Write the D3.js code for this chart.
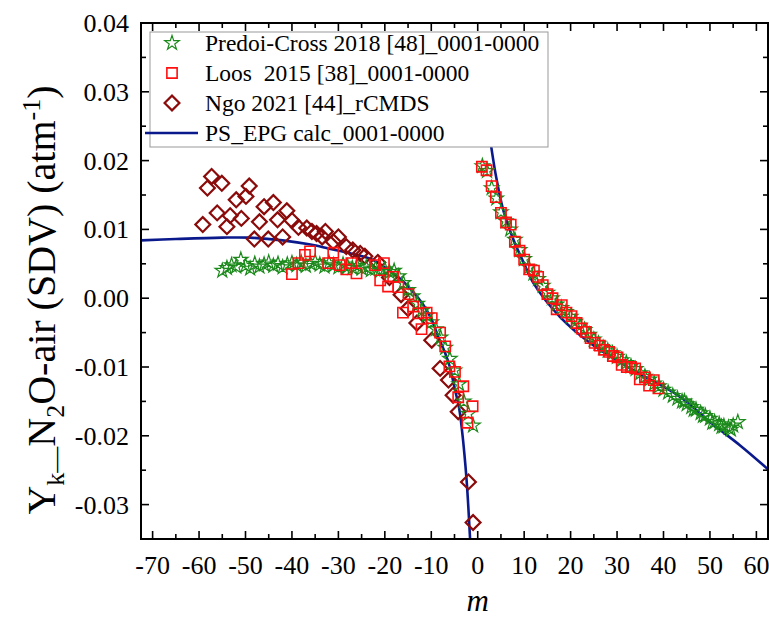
<!DOCTYPE html>
<html>
<head>
<meta charset="utf-8">
<script src="https://cdn.jsdelivr.net/npm/d3@7"></script>
<style>
  body { margin: 0; background: #fff; }
</style>
</head>
<body>
<div id="chart"></div>
<script>
// Predoi-Cross 2018 (green stars)
const starM = [-55,-54,-53,-52,-51,-50,-49,-48,-47,-46,-45,-44,-43,-42,-41,-40,-39,-38,-37,-36,-35,-34,-33,-32,-31,-30,-29,-28,-27,-26,-25,-24,-23,-22,-21,-20,-19,-18,-17,-16,-15,-14,-13,-12,-11,-10,-9,-8,-7,-6,-5,-4,-3,-2,-1,
  1,2,3,4,5,6,7,8,9,10,11,12,13,14,15,16,17,18,19,20,21,22,23,24,25,26,27,28,29,30,31,32,33,34,35,36,37,38,39,40,41,42,43,44,45,46,47,48,49,50,51,52,53,54,55,56,
  44.5,46.5,48.5,50.5,52.5,54.5];
const starY = [0.0040,0.0044,0.0048,0.0046,0.0056,0.0047,0.0043,0.0050,0.0046,0.0049,0.0052,0.0047,0.0050,0.0045,0.0049,0.0051,0.0048,0.0052,0.0047,0.0050,0.0053,0.0049,0.0046,0.0051,0.0048,0.0045,0.0049,0.0046,0.0044,0.0047,0.0043,0.0045,0.0041,0.0043,0.0040,0.0042,0.0038,0.0040,0.0032,0.0022,0.0012,0.0003,-0.0008,-0.0018,-0.0025,-0.0035,-0.0045,-0.0057,-0.0072,-0.0088,-0.0105,-0.0125,-0.0150,-0.0168,-0.0185,
  0.0192,0.0185,0.0160,0.0145,0.0125,0.0112,0.0100,0.0085,0.0070,0.0057,0.0045,0.0036,0.0028,0.0018,0.0008,0.0000,-0.0009,-0.0014,-0.0020,-0.0027,-0.0034,-0.0040,-0.0046,-0.0053,-0.0060,-0.0066,-0.0072,-0.0076,-0.0080,-0.0085,-0.0090,-0.0094,-0.0099,-0.0103,-0.0109,-0.0114,-0.0118,-0.0124,-0.0128,-0.0133,-0.0137,-0.0142,-0.0146,-0.0150,-0.0154,-0.0158,-0.0162,-0.0167,-0.0171,-0.0175,-0.0180,-0.0183,-0.0186,-0.0188,-0.0185,-0.0180,
  -0.0150,-0.0162,-0.0171,-0.0181,-0.0187,-0.0191];

// Loos 2015 (red squares)
const loosM = [-40.0,-38.6,-37.2,-36.1,-32.2,-31.1,-29.7,-28.3,-27.2,-26.1,-22.1,-20.2,-18.2,-21.0,-19.3,-17.1,-14.9,-16.1,-13.9,-12.8,-11.0,-9.9,-12.1,-8.1,-7.0,-6.1,-4.9,-3.1,-4.2,-1.1,-2.2,
  0.9,1.9,3.0,3.9,5.0,6.1,7.1,8.0,9.0,10.0,11.1,12.1,13.0,14.0,15.0,16.1,17.0,18.1,19.1,20.2,21.3,22.4,23.3,24.3,25.2,26.3,27.2,28.3,29.1,30.1,31.0,32.1,33.0,33.9,34.9,36.0,36.9,37.9,38.9];
const loosY = [0.0035,0.0051,0.0063,0.0068,0.0051,0.0066,0.0048,0.0042,0.0051,0.0036,0.0048,0.0051,0.0031,0.0026,0.0017,0.0016,0.0006,-0.0021,-0.0012,-0.0022,-0.0021,-0.0029,-0.0045,-0.0050,-0.0070,-0.0099,-0.0107,-0.0128,-0.0144,-0.0157,-0.0181,
  0.0191,0.0186,0.0163,0.0147,0.0124,0.0110,0.0107,0.0082,0.0069,0.0056,0.0042,0.0040,0.0031,0.0019,0.0006,0.0000,-0.0016,-0.0010,-0.0021,-0.0026,-0.0036,-0.0044,-0.0049,-0.0058,-0.0065,-0.0069,-0.0075,-0.0078,-0.0084,-0.0086,-0.0097,-0.0100,-0.0100,-0.0102,-0.0118,-0.0115,-0.0127,-0.0119,-0.0131];

// Ngo 2021 (dark red diamonds)
const ngoM = [-57.3,-55.1,-58.2,-49.2,-49.9,-52.0,-44.0,-46.0,-56.1,-53.3,-50.9,-41.1,-43.1,-47.0,-59.2,-54.0,-40.0,-38.6,-36.8,-35.7,-34.7,-32.8,-33.5,-30.0,-31.1,-28.3,-26.9,-25.3,-24.3,-48.1,-45.1,-42.0,
  -21.5,-19.0,-16.5,-15.0,-13.1,-9.9,-8.1,-6.3,-5.3,-4.2,-2.0,-1.0];
const ngoY = [0.0177,0.0167,0.0160,0.0163,0.0148,0.0143,0.0139,0.0133,0.0124,0.0120,0.0116,0.0127,0.0114,0.0111,0.0107,0.0104,0.0113,0.0103,0.0102,0.0097,0.0094,0.0097,0.0089,0.0089,0.0082,0.0075,0.0070,0.0065,0.0061,0.0086,0.0086,0.0089,
  0.0052,0.0030,0.0005,-0.0015,-0.0036,-0.0061,-0.0102,-0.0119,-0.0141,-0.0165,-0.0267,-0.0326];

// PS_EPG calc (two branches)
const calcLeftM = [-72.5,-65,-55,-49,-42,-36,-32,-28,-23,-20,-17,-14,-11.7,-10,-8.5,-7,-6,-4.9,-4,-3.4,-2.4,-1.66,-1.5];
const calcLeftY = [0.0084,0.0086,0.0088,0.0088,0.0084,0.0078,0.0072,0.0066,0.0057,0.0045,0.0030,0.0010,-0.0010,-0.0030,-0.0056,-0.0080,-0.0100,-0.0133,-0.0160,-0.0191,-0.0264,-0.0348,-0.0370];
const calcRightM = [1.0,1.1,1.5,2.0,3.0,4.0,5.5,7.7,10,12,17.7,24.2,32.8,43.5,50,56.5,62.7,63.5];
const calcRightY = [0.0370,0.0346,0.0300,0.0265,0.0216,0.0175,0.0128,0.0085,0.0050,0.0022,-0.0027,-0.0065,-0.0102,-0.0143,-0.0180,-0.0214,-0.0250,-0.0255];

const xTicks = [-70,-60,-50,-40,-30,-20,-10,0,10,20,30,40,50,60];
const yTicks = [-0.03,-0.02,-0.01,0.00,0.01,0.02,0.03,0.04];

const legendLabels = ["Predoi-Cross 2018 [48]_0001-0000", "Loos  2015 [38]_0001-0000", "Ngo 2021 [44]_rCMDS", "PS_EPG calc_0001-0000"];

const width = 769, height = 622;
const padLeft = 141, padRight = 768, padTop = 23, padBottom = 539;
const serif = '"Liberation Serif", "Times New Roman", Times, "DejaVu Serif", serif';

const svg = d3.select('#chart').append('svg')
    .attr('width', width)
    .attr('height', height)
    .attr('font-family', serif)
    .style('font-family', serif);

const x = d3.scaleLinear().domain([-72.5, 62.5]).range([padLeft, padRight]);
const y = d3.scaleLinear().domain([-0.035, 0.04]).range([padBottom, padTop]);

svg.append('clipPath').attr('id', 'clip')
    .append('rect')
    .attr('x', padLeft).attr('y', padTop)
    .attr('width', padRight - padLeft).attr('height', padBottom - padTop);

const plot = svg.append('g').attr('clip-path', 'url(#clip)');

// calc curve
const line = d3.line()
    .x(d => x(d[0]))
    .y(d => y(d[1]))
    .curve(d3.curveCatmullRom.alpha(0.5));

[[calcLeftM, calcLeftY], [calcRightM, calcRightY]].forEach(([ms, ys]) => {
    plot.append('path')
        .datum(ms.map((m, i) => [m, ys[i]]))
        .attr('d', line)
        .attr('fill', 'none')
        .attr('stroke', '#0a1a8c')
        .attr('stroke-width', 2.6);
});

const starColor = '#1b8a1b';
const loosColor = '#ff1010';
const ngoColor = '#8b0a0a';

const starSym = d3.symbol().type(d3.symbolStar).size(65);
const squareSym = d3.symbol().type(d3.symbolSquare).size(105);
const diamondSym = d3.symbol().type(d3.symbolSquare).size(110);

function drawPoints(ms, ys, sym, color, sw, rotate) {
    plot.append('g')
        .selectAll('path')
        .data(ms.map((m, i) => [m, ys[i]]))
        .enter()
        .append('path')
        .attr('d', sym)
        .attr('transform', d => `translate(${x(d[0])},${y(d[1])})` + (rotate ? ' rotate(45)' : ''))
        .attr('fill', 'none')
        .attr('stroke', color)
        .attr('stroke-width', sw);
}

drawPoints(ngoM, ngoY, diamondSym, ngoColor, 2.2, true);
drawPoints(starM, starY, starSym, starColor, 1.2, false);
drawPoints(loosM, loosY, squareSym, loosColor, 1.6, false);

// axes (ticks inward, mirrored on top/right)
const minorX = d3.range(-70, 61, 5);
const minorY = d3.range(-0.035, 0.0401, 0.005);

const axisG = svg.append('g').attr('stroke', '#000').attr('stroke-width', 1.6);
minorX.forEach(v => {
    const major = xTicks.includes(Math.round(v));
    const len = major ? 8 : 5;
    axisG.append('line').attr('x1', x(v)).attr('x2', x(v)).attr('y1', padBottom).attr('y2', padBottom - len);
    axisG.append('line').attr('x1', x(v)).attr('x2', x(v)).attr('y1', padTop).attr('y2', padTop + len);
});
minorY.forEach(v => {
    const major = yTicks.some(t => Math.abs(t - v) < 1e-6);
    const len = major ? 8 : 5;
    axisG.append('line').attr('y1', y(v)).attr('y2', y(v)).attr('x1', padLeft).attr('x2', padLeft + len);
    axisG.append('line').attr('y1', y(v)).attr('y2', y(v)).attr('x1', padRight).attr('x2', padRight - len);
});

svg.append('rect')
    .attr('x', padLeft).attr('y', padTop)
    .attr('width', padRight - padLeft).attr('height', padBottom - padTop)
    .attr('fill', 'none')
    .attr('stroke', '#000')
    .attr('stroke-width', 2);

// tick labels
svg.append('g').selectAll('text')
    .data(xTicks).enter().append('text')
    .attr('x', d => x(d))
    .attr('y', 574)
    .attr('text-anchor', 'middle')
    .attr('font-size', 26)
    .text(d => d);

svg.append('g').selectAll('text')
    .data(yTicks).enter().append('text')
    .attr('x', 129)
    .attr('y', d => y(d) + 9)
    .attr('text-anchor', 'end')
    .attr('font-size', 26)
    .text(d => d.toFixed(2));

// axis titles
svg.append('text')
    .attr('x', x(0))
    .attr('y', 611)
    .attr('text-anchor', 'middle')
    .attr('font-size', 31)
    .attr('font-style', 'italic')
    .text('m');

const yt = svg.append('text')
    .attr('transform', 'translate(55,300) rotate(-90)')
    .attr('text-anchor', 'middle')
    .attr('font-size', 40);
yt.append('tspan').text('Y');
yt.append('tspan').attr('font-size', 26).attr('dy', 9).text('k—');
yt.append('tspan').attr('dy', -9).text('N');
yt.append('tspan').attr('font-size', 26).attr('dy', 9).text('2');
yt.append('tspan').attr('dy', -9).text('O-air (SDV) (atm');
yt.append('tspan').attr('font-size', 26).attr('dy', -15).text('-1');
yt.append('tspan').attr('dy', 15).text(')');

// legend
const lg = svg.append('g');
lg.append('rect')
    .attr('x', 150).attr('y', 32)
    .attr('width', 398).attr('height', 115)
    .attr('fill', '#fff')
    .attr('stroke', '#999')
    .attr('stroke-width', 1);

const rowY = [43, 73, 103, 133];
lg.append('path').attr('d', starSym).attr('transform', `translate(172,${rowY[0]})`)
    .attr('fill', 'none').attr('stroke', starColor).attr('stroke-width', 1.2);
lg.append('path').attr('d', squareSym).attr('transform', `translate(172,${rowY[1]})`)
    .attr('fill', 'none').attr('stroke', loosColor).attr('stroke-width', 1.6);
lg.append('path').attr('d', diamondSym).attr('transform', `translate(172,${rowY[2]}) rotate(45)`)
    .attr('fill', 'none').attr('stroke', ngoColor).attr('stroke-width', 2.2);
lg.append('line').attr('x1', 145).attr('x2', 198).attr('y1', rowY[3]).attr('y2', rowY[3])
    .attr('stroke', '#0a1a8c').attr('stroke-width', 2.6);

lg.selectAll('text.lab')
    .data(legendLabels).enter().append('text')
    .attr('class', 'lab')
    .attr('x', 205)
    .attr('y', (d, i) => rowY[i] + 8)
    .attr('font-size', 23.5)
    .style('white-space', 'pre')
    .text(d => d);
</script>
</body>
</html>
